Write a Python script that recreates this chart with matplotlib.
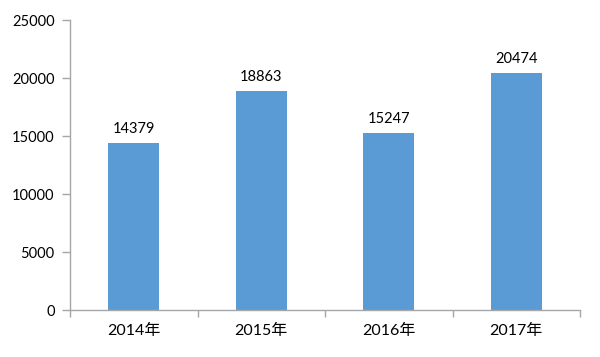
import matplotlib
matplotlib.use("Agg")
import matplotlib.pyplot as plt
import numpy as np

plt.rcParams['font.family'] = ['Lato', 'Noto Sans CJK SC', 'DejaVu Sans']

categories = ["2014年", "2015年", "2016年", "2017年"]
values = [14379, 18863, 15247, 20474]
yticks = [0, 5000, 10000, 15000, 20000, 25000]

fig = plt.figure(figsize=(6, 3.57), dpi=100)
ax = fig.add_axes([70/600, 1-310/357, 510/600, 290/357])

x = np.arange(len(categories))
bars = ax.bar(x, values, width=0.4, color='#5B9BD5')
for xi, v in zip(x, values):
    ax.annotate(str(v), (xi, v), xytext=(0, 5), textcoords='offset points',
                ha='center', va='bottom', fontsize=10.5, color='#000000')

ax.set_xlim(-0.5, len(categories) - 0.5)
ax.set_ylim(0, 25000)
ax.set_yticks(yticks)
ax.set_yticklabels([str(t) for t in yticks])
ax.set_xticks(x)
ax.set_xticklabels(categories)
ax.set_xticks(np.arange(len(categories) + 1) - 0.5, minor=True)

for s in ['top', 'right']:
    ax.spines[s].set_visible(False)
for s in ['left', 'bottom']:
    ax.spines[s].set_color('#a6a6a6')
    ax.spines[s].set_linewidth(1.0)

ax.tick_params(axis='x', which='major', length=0, pad=10, labelsize=11.5, labelcolor='#000000')
ax.tick_params(axis='x', which='minor', length=5, color='#a6a6a6', width=1)
ax.tick_params(axis='y', length=6, color='#a6a6a6', width=1, pad=5, labelsize=10.5, labelcolor='#000000')

fig.savefig('out.png', dpi=100)
